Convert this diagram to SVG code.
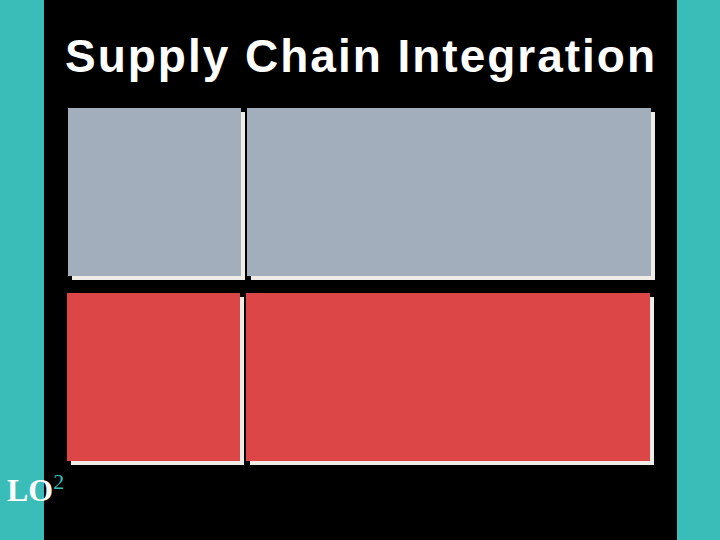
<svg xmlns="http://www.w3.org/2000/svg" width="720" height="540" viewBox="0 0 720 540">
<style>
.bar{fill:#3abdb8}
.shadow{fill:#efede6}
.gray{fill:#a3aebd}
.red{fill:#dc4646}
.title{font-family:"Liberation Sans",Arial,sans-serif;font-weight:bold;font-size:46px;fill:#ffffff}
.lo{font-family:"Liberation Serif","Times New Roman",serif;font-weight:bold;font-size:32px;fill:#ffffff}
.sup{font-family:"Liberation Serif","Times New Roman",serif;font-size:22px;fill:#3abdb8}
</style>
<rect x="0" y="0" width="720" height="540" fill="#000000"/>
<rect class="bar" x="0" y="0" width="44" height="540"/>
<rect class="bar" x="677" y="0" width="43" height="540"/>
<text class="title" x="65" y="72" textLength="590" lengthAdjust="spacing">Supply Chain Integration</text>
<g id="box-gray-left">
<rect class="shadow" x="72" y="112" width="173" height="168"/>
<rect class="gray" x="68" y="108" width="173" height="168"/>
</g>
<g id="box-gray-right">
<rect class="shadow" x="251" y="112" width="404" height="168"/>
<rect class="gray" x="247" y="108" width="404" height="168"/>
</g>
<g id="box-red-left">
<rect class="shadow" x="71" y="297" width="173" height="168"/>
<rect class="red" x="67" y="293" width="173" height="168"/>
</g>
<g id="box-red-right">
<rect class="shadow" x="250" y="297" width="404" height="168"/>
<rect class="red" x="246" y="293" width="404" height="168"/>
</g>
<g id="connectors"/>
<text x="7" y="501"><tspan class="lo">LO</tspan><tspan class="sup" dy="-12">2</tspan></text>
</svg>
